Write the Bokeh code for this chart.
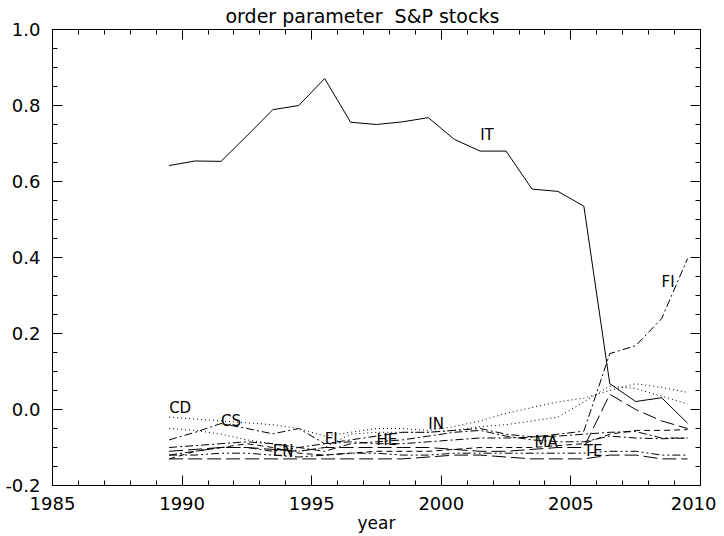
from bokeh.plotting import figure
from bokeh.models import (Range1d, SingleIntervalTicker, LinearAxis, NumeralTickFormatter,
                          ColumnDataSource, Title, CustomJSTickFormatter)
from bokeh.core.properties import value
from bokeh.embed import file_html
from bokeh.resources import INLINE

years = [1989.5 + i for i in range(21)]

IT = [0.642, 0.654, 0.653, 0.72, 0.789, 0.80, 0.871, 0.756, 0.75, 0.757, 0.768,
      0.711, 0.68, 0.68, 0.58, 0.574, 0.535, 0.068, 0.021, 0.031, -0.036]
CD = [-0.02, -0.025, -0.03, -0.035, -0.04, -0.05, -0.07, -0.06, -0.05, -0.05, -0.055,
      -0.045, -0.03, -0.01, 0.005, 0.02, 0.03, 0.05, 0.068, 0.058, 0.045]
CS = [-0.08, -0.06, -0.037, -0.05, -0.064, -0.05, -0.09, -0.08, -0.07, -0.06, -0.06,
      -0.055, -0.05, -0.065, -0.072, -0.07, -0.065, -0.06, -0.058, -0.075, -0.075]
FI = [-0.12, -0.11, -0.1, -0.1, -0.11, -0.1, -0.09, -0.085, -0.09, -0.09, -0.085,
      -0.08, -0.075, -0.075, -0.073, -0.065, -0.057, 0.147, 0.168, 0.239, 0.397]
EN = [-0.13, -0.11, -0.1, -0.09, -0.1, -0.115, -0.12, -0.115, -0.11, -0.11, -0.11,
      -0.105, -0.1, -0.1, -0.1, -0.095, -0.09, -0.065, -0.055, -0.055, -0.053]
HE = [-0.11, -0.105, -0.1, -0.1, -0.105, -0.11, -0.1, -0.1, -0.1, -0.1, -0.1,
      -0.105, -0.11, -0.11, -0.105, -0.1, -0.1, 0.04, 0.0, -0.03, -0.05]
IN = [-0.05, -0.055, -0.065, -0.08, -0.09, -0.11, -0.1, -0.065, -0.06, -0.06, -0.06,
      -0.055, -0.045, -0.04, -0.03, -0.02, 0.02, 0.062, 0.055, 0.035, 0.015]
MA = [-0.1, -0.095, -0.09, -0.085, -0.09, -0.1, -0.11, -0.09, -0.085, -0.08, -0.07,
      -0.06, -0.055, -0.07, -0.08, -0.085, -0.085, -0.07, -0.075, -0.077, -0.075]
TE = [-0.12, -0.12, -0.115, -0.115, -0.12, -0.125, -0.12, -0.115, -0.115, -0.12, -0.12,
      -0.115, -0.115, -0.115, -0.115, -0.115, -0.115, -0.11, -0.11, -0.12, -0.12]
UT = [-0.13, -0.13, -0.13, -0.13, -0.13, -0.13, -0.13, -0.13, -0.13, -0.13, -0.125,
      -0.12, -0.12, -0.125, -0.13, -0.13, -0.13, -0.12, -0.12, -0.13, -0.13]

series = {"CD": CD, "CS": CS, "EN": EN, "FI": FI, "HE": HE, "IN": IN,
          "IT": IT, "MA": MA, "TE": TE, "UT": UT}
dashes = {"CD": "1 3", "CS": "8 3 2 3", "EN": "6 4", "FI": "8 3 2 3",
          "HE": "14 5", "IN": "1 3", "IT": "solid", "MA": "8 3 2 3",
          "TE": "8 3 2 3 2 3", "UT": "14 5"}

label_text = ["CD", "CS", "EN", "FI", "HE", "IN", "IT", "MA", "TE", "FI"]
label_x = [1989.5, 1991.5, 1993.5, 1995.5, 1997.5, 1999.5, 2001.5, 2003.6, 2005.5, 2008.5]
label_y = [-0.02, -0.055, -0.134, -0.10, -0.103, -0.063, 0.70, -0.108, -0.134, 0.313]

title_text = "order parameter\u00a0\u00a0S&P stocks"
FONT = "DejaVu Sans"

p = figure(width=716, height=536, output_backend="svg", toolbar_location=None,
           x_range=Range1d(1985, 2010), y_range=Range1d(-0.2, 1.0),
           min_border_left=52, min_border_right=16, min_border_top=29, min_border_bottom=51)
p.title = Title(text=title_text, align="left",
                text_font=FONT, text_font_size="19px", text_font_style="normal",
                text_color="black", offset=173, standoff=5)
p.grid.visible = False
p.outline_line_color = "black"
p.background_fill_color = "white"
p.border_fill_color = "white"

def style_axis(ax, show_labels=True):
    ax.major_tick_in = 10
    ax.major_tick_out = 0
    ax.minor_tick_in = 5
    ax.minor_tick_out = 0
    ax.axis_line_color = "black"
    ax.major_tick_line_color = "black"
    ax.minor_tick_line_color = "black"
    ax.major_label_text_font = FONT
    ax.major_label_text_font_size = "18px"
    ax.major_label_text_color = "black"
    ax.axis_label_text_font = FONT
    ax.axis_label_text_font_size = "17px"
    ax.axis_label_text_font_style = "normal"
    ax.axis_label_text_color = "black"
    if not show_labels:
        ax.formatter = CustomJSTickFormatter(code="return ''")
        ax.major_label_standoff = 0

p.xaxis.ticker = SingleIntervalTicker(interval=5, num_minor_ticks=5)
p.yaxis.ticker = SingleIntervalTicker(interval=0.2, num_minor_ticks=4)
p.yaxis.formatter = NumeralTickFormatter(format="0.0")
p.xaxis.axis_label = "year"
p.xaxis.axis_label_standoff = 0
p.xaxis.major_label_standoff = 11
p.yaxis.major_label_standoff = 12
style_axis(p.xaxis[0])
style_axis(p.yaxis[0])

top = LinearAxis(ticker=SingleIntervalTicker(interval=5, num_minor_ticks=5))
right = LinearAxis(ticker=SingleIntervalTicker(interval=0.2, num_minor_ticks=4))
style_axis(top, False)
style_axis(right, False)
p.add_layout(top, "above")
p.add_layout(right, "right")

for name, vals in series.items():
    p.line(years, vals, line_color="black", line_width=1, line_dash=dashes[name])

src = ColumnDataSource(dict(x=label_x, y=label_y, t=label_text))
p.text(x="x", y="y", text="t", source=src, text_font=value(FONT), text_font_size="15px",
       text_baseline="bottom", text_align="left", text_color="black")

open("out.html", "w").write(file_html(p, INLINE))
